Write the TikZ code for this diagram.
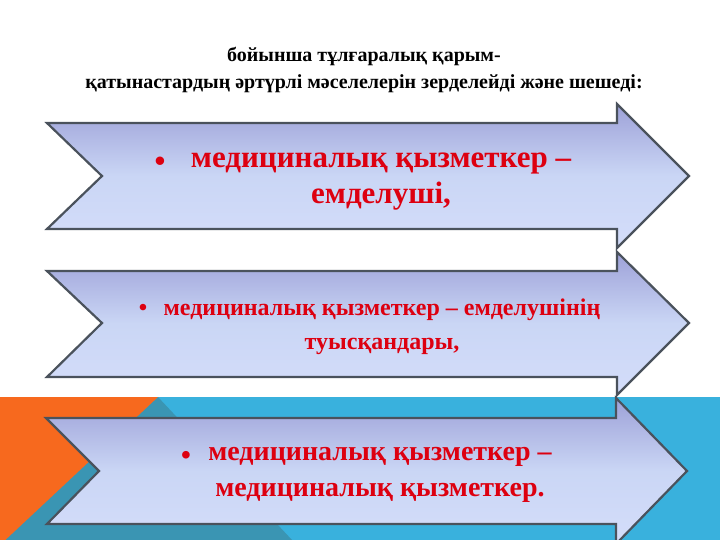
\documentclass[tikz,border=0pt]{standalone}
\usepackage{fontspec}
\setmainfont{Liberation Serif}
\definecolor{bandorange}{HTML}{F7691E}
\definecolor{bandteal}{HTML}{3A95B3}
\definecolor{bandblue}{HTML}{39B1DD}
\definecolor{arrowtop}{HTML}{9DA1D8}
\definecolor{arrowmid}{HTML}{CAD6F5}
\definecolor{arrowbot}{HTML}{D4DDFA}
\definecolor{arrowline}{HTML}{4A525C}
\definecolor{textred}{HTML}{DD0010}

\tikzset{
	arrowshape/.style={draw=arrowline, line width=2.2pt, line join=miter,
		top color=arrowtop, bottom color=arrowbot, middle color=arrowmid},
	itemtext/.style={text=textred, align=center, inner sep=0pt},
	bulletmark/.style={text=textred, inner sep=0pt},
}

\begin{document}
\begin{tikzpicture}[x=1pt,y=-1pt]
	\useasboundingbox[fill=white] (0,0) rectangle (720,540);
	% coloured band at the bottom
	\fill[bandblue] (0,397) rectangle (720,540);
	\fill[bandteal] (158,397) -- (292,540) -- (0,540) -- cycle;
	\fill[bandorange] (0,397) -- (158,397) -- (0,545) -- cycle;
	% heading
	\node[font=\fontsize{20}{27}\selectfont\bfseries, align=center] (title) at (364,70)
		{бойынша тұлғаралық қарым-\\қатынастардың әртүрлі мәселелерін зерделейді және шешеді:};
	% the three arrows
	\draw[arrowshape] (47,123) -- (617,123) -- (617,104) -- (689,176) -- (617,248) -- (617,229) -- (47,229) -- (102,176) -- cycle;
	\draw[arrowshape] (47,271) -- (617,271) -- (617,252) -- (689,323) -- (617,395) -- (617,377) -- (47,377) -- (102,323) -- cycle;
	\draw[arrowshape] (46,418) -- (616,418) -- (616,398) -- (687,471) -- (616,544) -- (616,524) -- (47,524) -- (99,471) -- cycle;
	% texts
	\node[itemtext, font=\fontsize{31}{36}\selectfont\bfseries] (first) at (381,182)
		{медициналық қызметкер –\\емделуші,};
	\node[bulletmark, font=\fontsize{31}{36}\selectfont\bfseries] (firstdot) at (160,164) {•};
	\node[itemtext, font=\fontsize{24}{34}\selectfont\bfseries] (second) at (382,327)
		{медициналық қызметкер – емделушінің\\туысқандары,};
	\node[bulletmark, font=\fontsize{24}{34}\selectfont\bfseries] (seconddot) at (143,310) {•};
	\node[itemtext, font=\fontsize{28}{36}\selectfont\bfseries] (third) at (380,475)
		{медициналық қызметкер –\\медициналық қызметкер.};
	\node[bulletmark, font=\fontsize{28}{36}\selectfont\bfseries] (thirddot) at (186,458) {•};
\end{tikzpicture}
\end{document}
